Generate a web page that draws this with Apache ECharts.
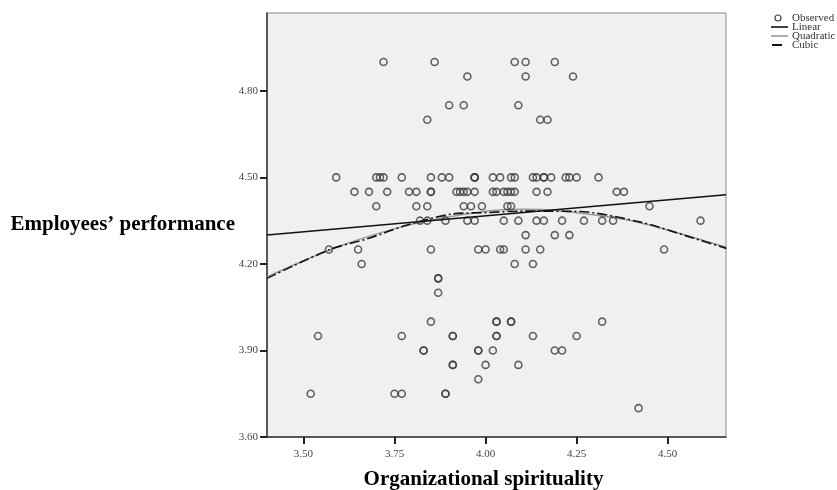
<!DOCTYPE html>
<html>
<head>
<meta charset="utf-8">
<script src="https://cdn.jsdelivr.net/npm/echarts@6/dist/echarts.min.js"></script>
<style>html,body{margin:0;padding:0;background:#fff}#c{width:837px;height:490px}</style>
</head>
<body>
<div id="c"></div>
<script>
// Observed points (x = Organizational spirituality, y = Employees' performance)
const obsX = [
  3.72, 3.86, 4.08, 4.11, 4.19,
  3.95, 4.11, 4.24,
  3.90, 3.94, 4.09,
  3.84, 4.15, 4.17,
  3.59, 3.70, 3.71, 3.72, 3.77, 3.85, 3.88, 3.90, 3.97, 3.97, 3.97, 4.02, 4.04, 4.07, 4.08, 4.13, 4.14, 4.16, 4.16, 4.18, 4.22, 4.23, 4.25, 4.31,
  3.64, 3.68, 3.73, 3.79, 3.81, 3.85, 3.85, 3.92, 3.93, 3.94, 3.95, 3.97, 4.02, 4.03, 4.05, 4.06, 4.07, 4.08, 4.14, 4.17, 4.36, 4.38,
  3.70, 3.81, 3.84, 3.94, 3.96, 3.99, 4.06, 4.07, 4.45,
  3.82, 3.84, 3.89, 3.95, 3.97, 4.05, 4.09, 4.14, 4.16, 4.21, 4.27, 4.32, 4.35, 4.59,
  4.11, 4.19, 4.23,
  3.57, 3.65, 3.85, 3.98, 4.00, 4.04, 4.05, 4.11, 4.15, 4.49,
  3.66, 4.08, 4.13,
  3.87, 3.87,
  3.87,
  3.85, 4.03, 4.03, 4.07, 4.07, 4.32,
  3.54, 3.77, 3.91, 3.91, 4.03, 4.03, 4.13, 4.25,
  3.83, 3.83, 3.98, 3.98, 4.02, 4.19, 4.21,
  3.91, 3.91, 4.00, 4.09,
  3.98,
  3.52, 3.75, 3.77, 3.89, 3.89,
  4.42
];
const obsY = [
  4.90, 4.90, 4.90, 4.90, 4.90,
  4.85, 4.85, 4.85,
  4.75, 4.75, 4.75,
  4.70, 4.70, 4.70,
  4.50, 4.50, 4.50, 4.50, 4.50, 4.50, 4.50, 4.50, 4.50, 4.50, 4.50, 4.50, 4.50, 4.50, 4.50, 4.50, 4.50, 4.50, 4.50, 4.50, 4.50, 4.50, 4.50, 4.50,
  4.45, 4.45, 4.45, 4.45, 4.45, 4.45, 4.45, 4.45, 4.45, 4.45, 4.45, 4.45, 4.45, 4.45, 4.45, 4.45, 4.45, 4.45, 4.45, 4.45, 4.45, 4.45,
  4.40, 4.40, 4.40, 4.40, 4.40, 4.40, 4.40, 4.40, 4.40,
  4.35, 4.35, 4.35, 4.35, 4.35, 4.35, 4.35, 4.35, 4.35, 4.35, 4.35, 4.35, 4.35, 4.35,
  4.30, 4.30, 4.30,
  4.25, 4.25, 4.25, 4.25, 4.25, 4.25, 4.25, 4.25, 4.25, 4.25,
  4.20, 4.20, 4.20,
  4.15, 4.15,
  4.10,
  4.00, 4.00, 4.00, 4.00, 4.00, 4.00,
  3.95, 3.95, 3.95, 3.95, 3.95, 3.95, 3.95, 3.95,
  3.90, 3.90, 3.90, 3.90, 3.90, 3.90, 3.90,
  3.85, 3.85, 3.85, 3.85,
  3.80,
  3.75, 3.75, 3.75, 3.75, 3.75,
  3.70
];
// Fit lines
const linearX = [3.40, 4.66];
const linearY = [4.30, 4.44];
const quadX = [3.40, 3.60, 3.80, 4.00, 4.10, 4.20, 4.40, 4.66];
const quadY = [4.155, 4.262, 4.338, 4.383, 4.39, 4.385, 4.35, 4.258];
const cubicX = [3.40, 3.573, 3.675, 3.785, 3.908, 4.00, 4.10, 4.25, 4.425, 4.562, 4.661];
const cubicY = [4.150, 4.25, 4.287, 4.335, 4.373, 4.378, 4.383, 4.382, 4.345, 4.293, 4.254];
// Tick labels and legend
const xTicks = [3.50, 3.75, 4.00, 4.25, 4.50];
const yTicks = [3.60, 3.90, 4.20, 4.50, 4.80];
const legendNames = ['Observed', 'Linear', 'Quadratic', 'Cubic'];

const zip = (a, b) => a.map((v, i) => [v, b[i]]);
const serif = '"Liberation Serif", "DejaVu Serif", serif';

// legend drawn as graphic (icon column + text)
const legendGraphic = [];
const rowY = [18, 27, 36, 45];
legendNames.forEach((n, i) => {
  const y = rowY[i];
  if (i === 0) {
    legendGraphic.push({ type: 'circle', shape: { cx: 778, cy: y, r: 3 }, style: { fill: 'none', stroke: '#444', lineWidth: 1.2 } });
  } else if (i === 1) {
    legendGraphic.push({ type: 'line', shape: { x1: 771, y1: y, x2: 788, y2: y }, style: { stroke: '#111', lineWidth: 1.6 } });
  } else if (i === 2) {
    legendGraphic.push({ type: 'line', shape: { x1: 771, y1: y, x2: 788, y2: y }, style: { stroke: '#999', lineWidth: 1.6 } });
  } else {
    legendGraphic.push({ type: 'line', shape: { x1: 772, y1: y, x2: 782, y2: y }, style: { stroke: '#111', lineWidth: 2 } });
  }
  legendGraphic.push({ type: 'text', x: 792, y: y, style: { text: n, font: '11px ' + serif, fill: '#333', textVerticalAlign: 'middle', verticalAlign: 'middle' } });
});

const chart = echarts.init(document.getElementById('c'));
chart.setOption({
  animation: false,
  backgroundColor: '#fff',
  grid: { left: 267, top: 13, right: 111, bottom: 53, show: true, outerBoundsMode: 'none', containLabel: false,
          backgroundColor: '#f0f0f0', borderColor: '#8a8a8a', borderWidth: 1 },
  graphic: legendGraphic,
  xAxis: {
    type: 'value', min: 3.4, max: 4.66,
    name: 'Organizational spirituality', nameLocation: 'middle', nameGap: 32, nameMoveOverlap: false,
    nameTextStyle: { fontFamily: serif, fontSize: 21, fontWeight: 'bold', color: '#000', padding: [0, 26, 0, 0] },
    axisLine: { show: true, lineStyle: { color: '#333', width: 1.5 } },
    axisTick: { show: true, customValues: xTicks, length: 7, lineStyle: { color: '#222', width: 2 } },
    axisLabel: { customValues: xTicks, formatter: v => v.toFixed(2), fontFamily: serif, fontSize: 11, color: '#444', margin: 12 },
    splitLine: { show: false }
  },
  yAxis: {
    type: 'value', min: 3.6, max: 5.07,
    name: 'Employees’ performance', nameLocation: 'middle', nameGap: 32, nameRotate: 0, nameMoveOverlap: false,
    nameTextStyle: { fontFamily: serif, fontSize: 21, fontWeight: 'bold', color: '#000', align: 'right' },
    axisLine: { show: true, lineStyle: { color: '#333', width: 1.5 } },
    axisTick: { show: true, customValues: yTicks, length: 7, lineStyle: { color: '#222', width: 2 } },
    axisLabel: { customValues: yTicks, formatter: v => v.toFixed(2), fontFamily: serif, fontSize: 11, color: '#444', margin: 9 },
    splitLine: { show: false }
  },
  series: [
    { name: 'Observed', type: 'scatter', data: zip(obsX, obsY), symbol: 'circle', symbolSize: 7,
      itemStyle: { color: 'rgba(0,0,0,0)', borderColor: '#3c3c3c', borderWidth: 1.6 }, z: 3 },
    { name: 'Linear', type: 'line', data: zip(linearX, linearY), symbol: 'none', showSymbol: false,
      lineStyle: { color: '#111', width: 1.5 }, z: 4 },
    { name: 'Quadratic', type: 'line', data: zip(quadX, quadY), symbol: 'none', showSymbol: false, smooth: 0.3,
      lineStyle: { color: '#9a9a9a', width: 1.5 }, z: 2 },
    { name: 'Cubic', type: 'line', data: zip(cubicX, cubicY), symbol: 'none', showSymbol: false, smooth: 0.3,
      lineStyle: { color: '#111', width: 1.6, type: [10, 3, 2, 3] }, z: 4 }
  ]
});
</script>
</body>
</html>
